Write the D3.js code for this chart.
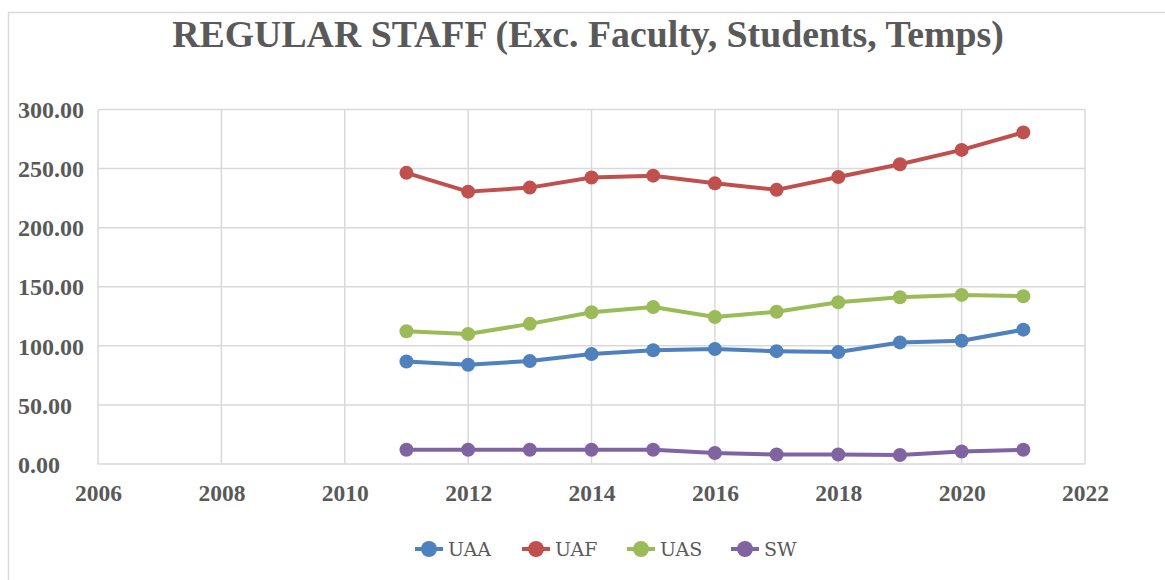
<!DOCTYPE html>
<html>
<head>
<meta charset="utf-8">
<script src="https://cdn.jsdelivr.net/npm/d3@7"></script>
<style>
    body { margin: 0; background: #fff; }
    svg { display: block; }
</style>
</head>
<body>
<script>
"use strict";
(function(){
    // data
    const years = [2011, 2012, 2013, 2014, 2015, 2016, 2017, 2018, 2019, 2020, 2021]
    const uaa = [86.8, 84.0, 87.2, 93.0, 96.2, 97.3, 95.5, 94.7, 102.9, 104.3, 113.7]
    const uaf = [246.4, 230.5, 233.9, 242.4, 244.0, 237.5, 232.0, 242.9, 253.7, 265.8, 280.6]
    const uas = [112.3, 110.0, 118.6, 128.4, 132.9, 124.4, 128.8, 136.9, 141.1, 143.1, 142.0]
    const sw = [12.0, 12.0, 12.0, 12.0, 12.0, 9.3, 8.0, 8.0, 7.6, 10.6, 12.0]
    const seriesNames = ["UAA", "UAF", "UAS", "SW"]
    const seriesColors = ["#4f81bd", "#c0504d", "#9bbb59", "#8064a2"]
    const xTicks = [2006, 2008, 2010, 2012, 2014, 2016, 2018, 2020, 2022]
    const yTicks = [0, 50, 100, 150, 200, 250, 300]

    const measurements = {
        width: 1165,
        height: 580,
        left: 98,
        right: 1085,
        top: 109.5,
        bottom: 464
    }
    const textColor = "#595959"
    const gridColor = "#d9d9d9"

    const svgContainer = d3.select("body").append("svg")
        .attr("width", measurements.width)
        .attr("height", measurements.height)

    // chart frame (only top and left edges fall inside the picture)
    svgContainer.append("rect")
        .attr("x", 8.5)
        .attr("y", 12.5)
        .attr("width", 1300)
        .attr("height", 700)
        .attr("fill", "none")
        .attr("stroke", gridColor)
        .attr("stroke-width", 1.5)

    const scaleX = d3.scaleLinear()
        .domain([2006, 2022])
        .range([measurements.left, measurements.right])
    const scaleY = d3.scaleLinear()
        .domain([0, 300])
        .range([measurements.bottom, measurements.top])

    // gridlines
    const grid = svgContainer.append("g")
    grid.selectAll(".vgrid")
        .data(xTicks)
        .enter()
        .append("line")
            .attr("x1", d => scaleX(d))
            .attr("x2", d => scaleX(d))
            .attr("y1", measurements.top)
            .attr("y2", measurements.bottom)
            .attr("stroke", gridColor)
            .attr("stroke-width", 1.5)
    grid.selectAll(".hgrid")
        .data(yTicks)
        .enter()
        .append("line")
            .attr("x1", measurements.left)
            .attr("x2", measurements.right)
            .attr("y1", d => scaleY(d))
            .attr("y2", d => scaleY(d))
            .attr("stroke", gridColor)
            .attr("stroke-width", 1.5)

    // axes, labels only
    const xAxis = d3.axisBottom(scaleX)
        .tickValues(xTicks)
        .tickFormat(d3.format("d"))
        .tickSize(0)
        .tickPadding(20)
    const xg = svgContainer.append("g")
        .attr("transform", `translate(0,${measurements.bottom})`)
        .call(xAxis)
    xg.select(".domain").remove()
    xg.selectAll("text")
        .attr("font-family", "'Liberation Serif', 'Times New Roman', serif")
        .attr("font-weight", "bold")
        .attr("font-size", "23.5px")
        .attr("fill", textColor)

    const yAxis = d3.axisLeft(scaleY)
        .tickValues(yTicks)
        .tickFormat(d3.format(".2f"))
        .tickSize(0)
    const yg = svgContainer.append("g")
        .call(yAxis)
    yg.select(".domain").remove()
    yg.selectAll("text")
        .attr("x", 18)
        .attr("dy", "0.34em")
        .attr("text-anchor", "start")
        .attr("font-family", "'Liberation Serif', 'Times New Roman', serif")
        .attr("font-weight", "bold")
        .attr("font-size", "24px")
        .attr("fill", textColor)

    // lines and markers
    const allSeries = [uaa, uaf, uas, sw]
    const line = d3.line()
        .x((d, i) => scaleX(years[i]))
        .y(d => scaleY(d))

    allSeries.forEach(function(values, s) {
        const g = svgContainer.append("g")
        g.append("path")
            .datum(values)
            .attr("d", line)
            .attr("fill", "none")
            .attr("stroke", seriesColors[s])
            .attr("stroke-width", 4)
            .attr("stroke-linejoin", "round")
        g.selectAll("circle")
            .data(values)
            .enter()
            .append("circle")
                .attr("cx", (d, i) => scaleX(years[i]))
                .attr("cy", d => scaleY(d))
                .attr("r", 7)
                .attr("fill", seriesColors[s])
    })

    // title
    svgContainer.append("text")
        .attr("x", 588)
        .attr("y", 47)
        .attr("text-anchor", "middle")
        .attr("font-family", "'Liberation Serif', 'Times New Roman', serif")
        .attr("font-weight", "bold")
        .attr("font-size", "37.8px")
        .attr("fill", textColor)
        .text("REGULAR STAFF (Exc. Faculty, Students, Temps)")

    // legend
    const legendX = [429, 536, 641, 745]
    const legend = svgContainer.selectAll(".legend")
        .data(seriesNames)
        .enter()
        .append("g")
            .attr("transform", (d, i) => `translate(${legendX[i]},549)`)
    legend.append("line")
        .attr("x1", -14)
        .attr("x2", 14)
        .attr("stroke", (d, i) => seriesColors[i])
        .attr("stroke-width", 4)
    legend.append("circle")
        .attr("r", 8)
        .attr("fill", (d, i) => seriesColors[i])
    legend.append("text")
        .attr("x", 19)
        .attr("dy", "0.35em")
        .attr("font-family", "'DejaVu Serif', serif")
        .attr("font-size", "19px")
        .attr("fill", textColor)
        .text(d => d)
})()
</script>
</body>
</html>
